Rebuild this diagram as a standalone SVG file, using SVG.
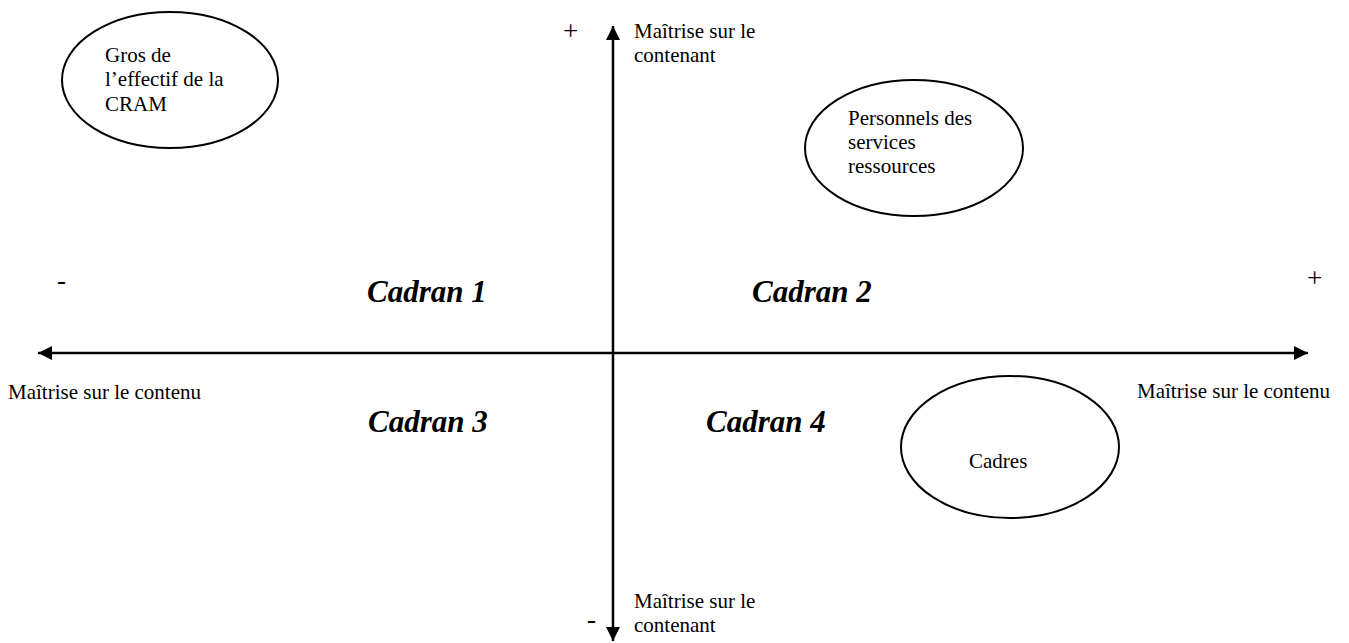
<svg xmlns="http://www.w3.org/2000/svg" width="1349" height="643" viewBox="0 0 1349 643">
<style>
.t{font-family:"Liberation Serif","Times New Roman",serif;font-size:21px;fill:#000}
.s{font-family:"Liberation Serif","Times New Roman",serif;font-size:27px;fill:#000}
.c{font-family:"Liberation Serif","Times New Roman",serif;font-size:31px;font-weight:bold;font-style:italic;fill:#000}
.e{fill:none;stroke:#000;stroke-width:2}
.ax{stroke:#000;stroke-width:2.5;fill:none}
</style>
<defs>
<marker id="ah" viewBox="0 0 10 10" refX="10" refY="5" markerWidth="6" markerHeight="5.6" markerUnits="strokeWidth" orient="auto-start-reverse">
<path d="M0,0 L10,5 L0,10 Z" fill="#000"/>
</marker>
</defs>
<rect width="1349" height="643" fill="#fff"/>
<g id="connectors">
<line class="ax" x1="38" y1="353" x2="1308" y2="353" marker-start="url(#ah)" marker-end="url(#ah)"/>
<line class="ax" x1="613" y1="641" x2="613" y2="26" marker-start="url(#ah)" marker-end="url(#ah)"/>
</g>
<g id="node-gros">
<ellipse class="e" cx="170" cy="80" rx="108" ry="68"/>
<text class="t" x="105" y="62">Gros de</text>
<text class="t" x="105" y="86">l’effectif de la</text>
<text class="t" x="105" y="111">CRAM</text>
</g>
<g id="node-personnels">
<ellipse class="e" cx="914" cy="148" rx="109" ry="68"/>
<text class="t" x="848" y="125">Personnels des</text>
<text class="t" x="848" y="149">services</text>
<text class="t" x="848" y="173">ressources</text>
</g>
<g id="node-cadres">
<ellipse class="e" cx="1010" cy="447" rx="109" ry="71"/>
<text class="t" x="969" y="468">Cadres</text>
</g>
<g id="labels">
<text class="t" x="634" y="38">Maîtrise sur le</text>
<text class="t" x="634" y="62">contenant</text>
<text class="t" x="634" y="608">Maîtrise sur le</text>
<text class="t" x="634" y="632">contenant</text>
<text class="t" x="8" y="399">Maîtrise sur le contenu</text>
<text class="t" x="1137" y="398">Maîtrise sur le contenu</text>
<text class="s" x="563" y="40">+</text>
<text class="s" x="1307" y="287">+</text>
<text class="s" x="57" y="289">-</text>
<text class="s" x="587" y="628">-</text>
<text class="c" x="367" y="302">Cadran 1</text>
<text class="c" x="752" y="302">Cadran 2</text>
<text class="c" x="368" y="432">Cadran 3</text>
<text class="c" x="706" y="432">Cadran 4</text>
</g>
</svg>
